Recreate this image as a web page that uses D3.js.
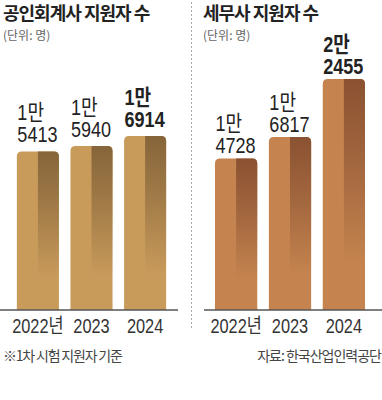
<!DOCTYPE html>
<html>
<head>
<meta charset="utf-8">
<style>
  body { margin: 0; background: #fff; }
  svg text { font-family: "Noto Sans CJK KR", sans-serif; }
  .num { font-family: "Liberation Sans", "Noto Sans CJK KR", sans-serif; }
</style>
</head>
<body>
<div id="chart"></div>
<script src="https://d3js.org/d3.v7.min.js"></script>
<script>
  // data
  const years = ["2022", "2023", "2024"];
  const yearLabels = ["2022년", "2023", "2024"];
  const cpaValues = [15413, 15940, 16914];
  const taxValues = [14728, 16817, 22455];
  const cpaTitle = "공인회계사 지원자 수";
  const taxTitle = "세무사 지원자 수";
  const unitLabel = "(단위: 명)";
  const footNote = "※1차 시험 지원자 기준";
  const source = "자료: 한국산업인력공단";

  const width = 382, height = 400;
  const baseY = 310;
  const narrow = 0.82; // condensed look for the numbers

  const svg = d3.select("#chart").append("svg")
    .attr("width", width).attr("height", height);

  const defs = svg.append("defs");
  function shade(id, dark) {
    const g = defs.append("linearGradient").attr("id", id)
      .attr("x1", 0).attr("y1", 0).attr("x2", 0).attr("y2", 1);
    g.append("stop").attr("offset", 0).attr("stop-color", dark).attr("stop-opacity", 1);
    g.append("stop").attr("offset", 0.35).attr("stop-color", dark).attr("stop-opacity", 0.6);
    g.append("stop").attr("offset", 0.8).attr("stop-color", dark).attr("stop-opacity", 0);
  }
  shade("shadeGold", "#86653a");
  shade("shadeCopper", "#8a5232");

  // one value scale shared by both panels
  const y = d3.scaleLinear().domain([0, 22455]).range([baseY, 79]);

  function roundTop(x, y0, w, h, r) {
    return `M${x},${y0 + h}V${y0 + r}Q${x},${y0} ${x + r},${y0}H${x + w - r}Q${x + w},${y0} ${x + w},${y0 + r}V${y0 + h}Z`;
  }

  function narrowText(parent, x, y0, txt) {
    return parent.append("g")
      .attr("transform", `translate(${x},${y0}) scale(${narrow},1)`)
      .append("text").attr("class", "num").text(txt);
  }

  function panel(values, range, lineRange, tx, title, light, shadeId, gap) {
    const x = d3.scaleBand().domain(years).range(range)
      .paddingInner(0.215).paddingOuter(0.1);
    const g = svg.append("g");

    g.append("text").attr("x", tx).attr("y", 20)
      .attr("font-size", 18).attr("font-weight", 700)
      .attr("letter-spacing", -1).attr("fill", "#222").text(title);
    g.append("text").attr("x", tx).attr("y", 40)
      .attr("font-size", 12).attr("fill", "#666").text(unitLabel);

    const bars = g.selectAll(".bar").data(values).join("g").attr("class", "bar");
    bars.append("path")
      .attr("d", (d, i) => roundTop(x(years[i]), y(d), x.bandwidth(), baseY - y(d), 5))
      .attr("fill", light);
    bars.append("path")
      .attr("d", (d, i) => {
        const bx = x(years[i]) + x.bandwidth() / 2, w = x.bandwidth() / 2;
        const h = baseY - y(d);
        return `M${bx},${y(d)}H${bx + w - 5}Q${bx + w},${y(d)} ${bx + w},${y(d) + 5}V${y(d) + h}H${bx}Z`;
      })
      .attr("fill", `url(#${shadeId})`);

    // value labels, two lines: "N만" and the remainder
    bars.each(function (d, i) {
      const b = d3.select(this);
      const lx = x(years[i]) + 0.5;
      const w = i === 2 ? 700 : 400;
      narrowText(b, lx, y(d) - gap - 22, Math.floor(d / 10000) + "만")
        .attr("font-size", 22).attr("font-weight", w).attr("fill", "#222");
      narrowText(b, lx, y(d) - gap, String(d % 10000).padStart(4, "0"))
        .attr("font-size", 22).attr("font-weight", w).attr("fill", "#222");
    });

    g.append("line").attr("x1", lineRange[0]).attr("x2", lineRange[1])
      .attr("y1", baseY).attr("y2", baseY)
      .attr("stroke", "#555").attr("stroke-width", 1.5);

    years.forEach((d, i) => {
      narrowText(g, x(d) + x.bandwidth() / 2, 333, yearLabels[i])
        .attr("text-anchor", "middle").attr("font-size", 20).attr("fill", "#333");
    });
  }

  panel(cpaValues, [11.5, 171.5], [0, 178], 3, cpaTitle, "#c99b5b", "shadeGold", 9);
  panel(taxValues, [209.6, 370.4], [204, 382], 203, taxTitle, "#c5844f", "shadeCopper", 5);

  svg.append("line").attr("x1", 191.5).attr("x2", 191.5).attr("y1", 2).attr("y2", 330)
    .attr("stroke", "#aaa").attr("stroke-dasharray", "2,2");

  svg.append("text").attr("x", 3).attr("y", 361)
    .attr("font-size", 14).attr("letter-spacing", -1.2).attr("fill", "#444").text(footNote);
  svg.append("text").attr("x", 381).attr("y", 361).attr("text-anchor", "end")
    .attr("font-size", 14).attr("letter-spacing", -1).attr("fill", "#444").text(source);
</script>
</body>
</html>
